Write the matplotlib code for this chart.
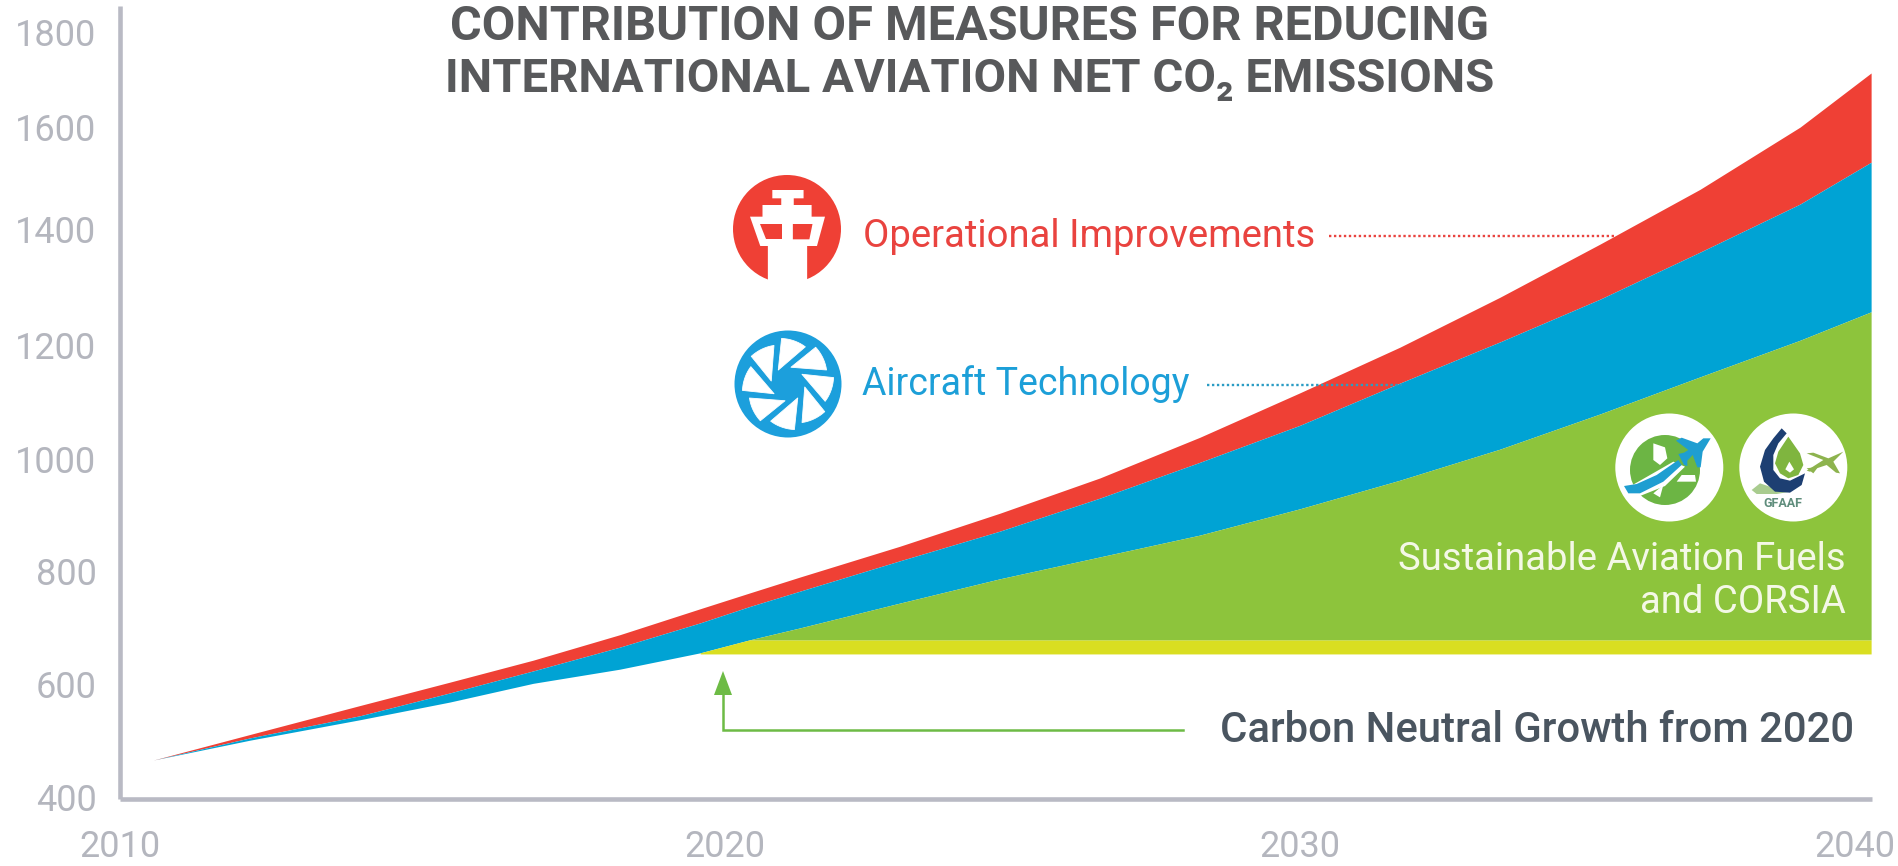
import numpy as np
import matplotlib
matplotlib.use("Agg")
import matplotlib.pyplot as plt
from matplotlib.patches import Circle, Polygon
from matplotlib.transforms import ScaledTranslation

plt.rcParams['font.family'] = ['Roboto', 'DejaVu Sans']

# ---- data ----
years = [2010.55, 2012.15, 2013.97, 2015.45, 2016.83, 2018.26, 2019.59, 2020.43, 2021.30, 2023.04,
         2024.78, 2026.52, 2028.26, 2030.0, 2031.80, 2033.60, 2035.41, 2037.21, 2039.01, 2040.29]
fuels_top = [468, 503, 539, 570, 603, 628, 657, 680, 701, 745,
             788, 827, 866, 913, 964, 1019, 1081, 1146, 1210, 1259]
technology_top = [468, 507, 546, 586, 625, 667, 710, 739, 766, 820,
                  873, 932, 996, 1061, 1135, 1207, 1281, 1362, 1451, 1533]
operations_top = [468, 513, 564, 605, 644, 689, 735, 763, 791, 846,
                  905, 968, 1040, 1118, 1198, 1284, 1376, 1480, 1602, 1716]
neutral_low = 655
neutral_high = 680
y_ticks = [400, 600, 800, 1000, 1200, 1400, 1600, 1800]
x_ticks = [2010, 2020, 2030, 2040]

# axis scales in the original are not uniform: tick value -> pixel
y_pix = [798.7, 685, 572, 460, 346, 230, 128, 33]
x_pix = [120, 725, 1300, 1855]

W, H = 1899, 866
fig = plt.figure(figsize=(W / 100, H / 100), dpi=100, facecolor='white')
ax = fig.add_axes([120 / W, 1 - 798.7 / H, (1872 - 120) / W, (798.7 - 6) / H])


def piecewise(vals, pix, sign):
    vals, pix = np.array(vals, float), np.array(pix, float) * sign
    s0 = (pix[1] - pix[0]) / (vals[1] - vals[0])
    s1 = (pix[-1] - pix[-2]) / (vals[-1] - vals[-2])
    v2 = np.r_[vals[0] - 1000, vals, vals[-1] + 1000]
    p2 = np.r_[pix[0] - 1000 * s0, pix, pix[-1] + 1000 * s1]
    return (lambda v: np.interp(v, v2, p2)), (lambda p: np.interp(p, p2, v2))


ax.set_xscale('function', functions=piecewise(x_ticks, x_pix, 1))
ax.set_yscale('function', functions=piecewise(y_ticks, y_pix, -1))
ax.set_xlim(2010, 2040.306)
ax.set_ylim(400, 1857)

x = np.array(years)
fuels = np.array(fuels_top, float)
tech = np.array(technology_top, float)
ops = np.array(operations_top, float)

RED, BLUE, GREEN, YELLOW = '#EF4035', '#00A3D4', '#8DC43C', '#D9DE21'
ax.fill_between(x, tech, ops, color=RED, lw=0, zorder=2)
ax.fill_between(x, fuels, tech, color=BLUE, lw=0, zorder=2)
m = x >= 2019.59
ax.fill_between(x[m], neutral_low, np.minimum(fuels[m], neutral_high), color=YELLOW, lw=0, zorder=3)
m2 = x >= 2020.43
ax.fill_between(x[m2], neutral_high, fuels[m2], color=GREEN, lw=0, zorder=3)

AX = '#B9BAC4'
TXT = '#B4B6BE'
for s in ('top', 'right'):
    ax.spines[s].set_visible(False)
for s in ('left', 'bottom'):
    ax.spines[s].set_color(AX)
    ax.spines[s].set_linewidth(3.3)
    ax.spines[s].set_capstyle('butt')
ax.set_xticks(x_ticks)
ax.set_xticklabels([str(v) for v in x_ticks])
ax.set_yticks(y_ticks)
ax.set_yticklabels([str(v) for v in y_ticks])
ax.tick_params(axis='both', which='major', length=0, labelsize=26, labelcolor=TXT)
ax.tick_params(axis='x', which='major', pad=22)
ax.tick_params(axis='y', which='major', pad=17)
shift = ScaledTranslation(0, -2.5 / 100, fig.dpi_scale_trans)
for lab in ax.get_yticklabels():
    lab.set_verticalalignment('center')
    lab.set_transform(lab.get_transform() + shift)
ax.set_xticks([2010], minor=True)
ax.set_yticks([400], minor=True)
ax.tick_params(axis='both', which='minor', length=11, width=3.3, color=AX)
ax.set_xticklabels([], minor=True)
ax.set_yticklabels([], minor=True)

# ---- overlay in pixel coordinates for annotation artwork ----
ov = fig.add_axes([0, 0, 1, 1], facecolor='none')
ov.set_xlim(0, W)
ov.set_ylim(H, 0)
ov.axis('off')

TITLE = '#58595B'
ov.text(970, 40, 'CONTRIBUTION OF MEASURES FOR REDUCING', ha='center', va='baseline',
        fontsize=35, fontweight='bold', color=TITLE)
ov.text(970, 92, 'INTERNATIONAL AVIATION NET CO₂ EMISSIONS', ha='center', va='baseline',
        fontsize=34, fontweight='bold', color=TITLE)

TXT_RED = '#E9433F'
TXT_BLUE = '#1C9FD8'
ov.text(863, 247, 'Operational Improvements', fontsize=27.5, color=TXT_RED, va='baseline')
ov.text(862, 395, 'Aircraft Technology', fontsize=27, color=TXT_BLUE, va='baseline')
ov.plot([1329, 1615], [236, 236], color=TXT_RED, lw=1.7, ls=(0, (1, 1.1)), zorder=5)
ov.plot([1207, 1402], [385, 385], color='#2A9CC4', lw=1.7, ls=(0, (1, 1.1)), zorder=5)
ov.text(1846, 570, 'Sustainable Aviation Fuels', ha='right', fontsize=27.5, color='#F4F8E6', va='baseline')
ov.text(1846, 613, 'and CORSIA', ha='right', fontsize=27.5, color='#F4F8E6', va='baseline')
ov.text(1220, 742, 'Carbon Neutral Growth from 2020', fontsize=30.2, fontweight='medium', color='#4A5560', va='baseline')

# arrow
ARW = '#6DBB45'
ov.plot([723, 723, 1183], [695, 730, 730], color=ARW, lw=1.8, solid_joinstyle='miter')
ov.add_patch(Polygon([(723, 671), (732, 695), (714, 695)], closed=True, fc=ARW, ec='none'))


# tower icon
def z1(p):
    return [(700 + a / 2.24, 150 + b / 3) for a, b in p]


ov.add_patch(Circle((787, 229), 54, fc=RED, ec='none'))
ov.add_patch(Polygon(z1([(162, 120), (232, 120), (232, 145), (210, 145), (210, 165), (250, 165), (250, 200),
                         (280, 200), (262, 288), (240, 288), (240, 400), (152, 400), (152, 288), (135, 288),
                         (112, 200), (140, 200), (140, 165), (182, 165), (182, 145), (162, 145)]),
                     closed=True, fc='white', ec='none'))
ov.add_patch(Polygon(z1([(135, 222), (183, 222), (183, 268), (148, 268)]), closed=True, fc=RED, ec='none'))
ov.add_patch(Polygon(z1([(208, 222), (252, 222), (245, 268), (208, 268)]), closed=True, fc=RED, ec='none'))

# fan icon
FAN = '#1C9FDC'
cx, cy = 788, 384
ov.add_patch(Circle((cx, cy), 53.5, fc=FAN, ec='none'))
for k in range(8):
    th = -125 + 45 * k
    pts = [(cx + 17 * np.cos(np.deg2rad(th)), cy + 17 * np.sin(np.deg2rad(th)))]
    for t, r in zip(np.linspace(th + 27, th + 60, 10), np.linspace(46, 41, 10)):
        pts.append((cx + r * np.cos(np.deg2rad(t)), cy + r * np.sin(np.deg2rad(t))))
    ov.add_patch(Polygon(pts, closed=True, fc='white', ec='white', lw=0.6, joinstyle='round'))
ov.add_patch(Circle((cx, cy), 9.5, fc=FAN, ec='none'))


# logos
def z3(p):
    return [(1610 + a / 3, 410 + b / 3) for a, b in p]


ov.add_patch(Circle((1669.3, 467.5), 54, fc='white', ec='none'))
ov.add_patch(Circle((1793.3, 467.5), 54, fc='white', ec='none'))
LG = '#6CB544'
LB = '#1F9ED1'
ov.add_patch(Circle(z3([(165, 180)])[0], 35, fc=LG, ec='none'))
ov.add_patch(Polygon(z3([(130, 100), (165, 112), (172, 145), (150, 165), (130, 150)]), closed=True, fc='white', ec='none'))
ov.add_patch(Polygon(z3([(45, 238), (190, 155), (225, 170), (165, 228), (90, 258)]), closed=True, fc='white', ec='none'))
ov.add_patch(Polygon(z3([(215, 195), (255, 195), (258, 215), (200, 215)]), closed=True, fc='white', ec='none'))
ov.add_patch(Polygon(z3([(130, 250), (160, 225), (150, 262)]), closed=True, fc='white', ec='none'))
ov.add_patch(Polygon(z3([(42, 228), (80, 222), (140, 195), (205, 150), (215, 165), (160, 215), (90, 250), (55, 250)]),
                     closed=True, fc=LB, ec='none'))
ov.add_patch(Polygon(z3([(302, 85), (290, 105), (278, 125), (272, 172), (262, 172), (248, 135), (232, 152), (232, 168),
                         (222, 165), (205, 132), (222, 128), (235, 120), (198, 92), (215, 83), (262, 100), (280, 85)]),
                     closed=True, fc=LB, ec='none'))
ov.add_patch(Polygon(z3([(425, 240), (450, 220), (480, 230), (540, 245), (500, 252), (440, 252)]),
                     closed=True, fc='#A9CC8F', ec='none'))
ov.add_patch(Polygon(z3([(515, 55), (530, 70), (505, 100), (490, 135), (490, 180), (510, 205), (540, 212), (585, 190),
                         (575, 225), (540, 248), (495, 245), (462, 215), (450, 170), (465, 120), (490, 85)]),
                     closed=True, fc='#1D3F72', ec='none'))
ov.add_patch(Polygon(z3([(535, 80), (570, 130), (580, 165), (565, 195), (535, 205), (510, 190), (495, 160), (505, 125)]),
                     closed=True, fc='#7FB53F', ec='none'))
ov.add_patch(Polygon(z3([(538, 155), (552, 178), (540, 188), (526, 178)]), closed=True, fc='white', ec='none'))
ov.add_patch(Polygon(z3([(700, 125), (670, 155), (690, 190), (678, 188), (650, 165), (620, 175), (600, 185), (590, 182),
                         (640, 150), (590, 130), (610, 128), (655, 145)]), closed=True, fc='#8DB34E', ec='none'))
ov.add_patch(Polygon(z3([(590, 175), (625, 170), (610, 190)]), closed=True, fc='#8DB34E', ec='none'))
ov.text(*z3([(520, 280)])[0], 'GFAAF', ha='center', va='center', fontsize=9, fontweight='bold', color='#5F8D7C')

fig.savefig('out.png', dpi=100, facecolor='white')
